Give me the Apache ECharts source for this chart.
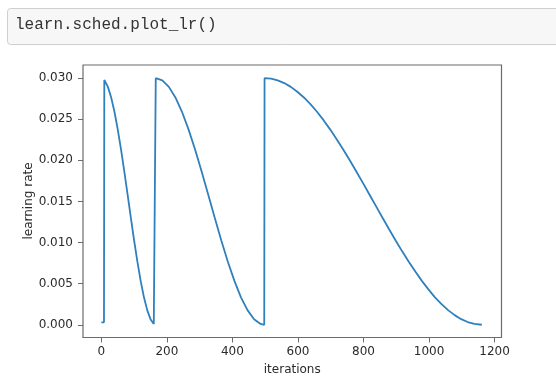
<!DOCTYPE html>
<html>
<head>
<meta charset="utf-8">
<script src="https://cdn.jsdelivr.net/npm/echarts@6/dist/echarts.min.js"></script>
<style>
  html, body { margin: 0; padding: 0; background: #ffffff; }
  #chart { width: 556px; height: 386px; }
</style>
</head>
<body>
<div id="chart"></div>
<script>
// ---- data ----
const codeText = 'learn.sched.plot_lr()';
const xLabel = 'iterations';
const yLabel = 'learning rate';
const xTicks = [0, 200, 400, 600, 800, 1000, 1200];
const yTicks = [0.000, 0.005, 0.010, 0.015, 0.020, 0.025, 0.030];

// warm-up + first cycle
const iterCycle1 = [0, 8, 9, 20, 30, 40, 50, 60, 70, 80, 90, 100, 110, 120, 130, 140, 150, 160, 165];
const lrCycle1 = [0.0003, 0.0003, 0.02978, 0.02894, 0.02765, 0.02591, 0.02377, 0.02133, 0.01865, 0.01585, 0.01302, 0.01025, 0.00767, 0.00534, 0.00334, 0.00178, 0.00068, 0.00010, 0.00000];
// second cycle
const iterCycle2 = [166, 186, 206, 226, 246, 266, 286, 306, 326, 346, 366, 386, 406, 426, 446, 466, 486, 497];
const lrCycle2 = [0.03000, 0.02973, 0.02894, 0.02765, 0.02591, 0.02377, 0.02133, 0.01865, 0.01585, 0.01302, 0.01025, 0.00767, 0.00534, 0.00334, 0.00178, 0.00068, 0.00010, 0.00000];
// third cycle
const iterCycle3 = [498, 518, 538, 558, 578, 598, 618, 638, 658, 678, 698, 718, 738, 758, 778, 798, 818, 838, 858, 878, 898, 918, 938, 958, 978, 998, 1018, 1038, 1058, 1078, 1098, 1118, 1138, 1161];
const lrCycle3 = [0.03000, 0.02993, 0.02973, 0.02940, 0.02894, 0.02835, 0.02765, 0.02683, 0.02591, 0.02489, 0.02377, 0.02258, 0.02133, 0.02001, 0.01865, 0.01726, 0.01585, 0.01443, 0.01302, 0.01162, 0.01025, 0.00893, 0.00767, 0.00647, 0.00534, 0.00430, 0.00334, 0.00251, 0.00178, 0.00117, 0.00068, 0.00033, 0.00010, 0.00000];

const iters = iterCycle1.concat(iterCycle2, iterCycle3);
const lrs = lrCycle1.concat(lrCycle2, lrCycle3);
const points = iters.map((x, i) => [x, lrs[i]]);

const chart = echarts.init(document.getElementById('chart'), null, { renderer: 'canvas' });
const font = 'DejaVu Sans';
const axisGray = '#6b6b6b';
const textColor = '#2b2b2b';

chart.setOption({
  animation: false,
  backgroundColor: '#ffffff',
  grid: {
    left: 83, top: 65, right: 54.5, bottom: 48.5,
    show: true, borderColor: axisGray, borderWidth: 1.2, backgroundColor: 'transparent'
  },
  graphic: [
    {
      type: 'rect', left: 7, top: 8, z: 10,
      shape: { width: 570, height: 36, r: 3 },
      style: { fill: '#f7f7f7', stroke: '#cfcfcf', lineWidth: 1 }
    },
    {
      type: 'text', left: 15, top: 17, z: 11,
      style: { text: codeText, font: '16px "Liberation Mono", monospace', fill: '#333333' }
    },
    {
      type: 'text', x: 29, y: 201, rotation: Math.PI / 2, z: 11,
      style: { text: yLabel, font: '12px "DejaVu Sans"', fill: textColor,
        align: 'center', verticalAlign: 'middle' }
    }
  ],
  xAxis: {
    type: 'value', min: -56, max: 1221,
    name: xLabel, nameLocation: 'middle', nameGap: 26,
    nameTextStyle: { fontFamily: font, fontSize: 12, color: textColor },
    axisLine: { show: false, onZero: false },
    axisTick: { show: true, length: 5, inside: false, customValues: xTicks, lineStyle: { color: axisGray, width: 1 } },
    axisLabel: { customValues: xTicks, fontFamily: font, fontSize: 12, color: textColor, margin: 8,
      formatter: v => String(Math.round(v)) },
    splitLine: { show: false }
  },
  yAxis: {
    type: 'value', min: -0.00155, max: 0.0316,
    axisLine: { show: false, onZero: false },
    axisTick: { show: true, length: 5, inside: false, customValues: yTicks, lineStyle: { color: axisGray, width: 1 } },
    axisLabel: { customValues: yTicks, fontFamily: font, fontSize: 12, color: textColor, margin: 10,
      formatter: v => v.toFixed(3) },
    splitLine: { show: false }
  },
  series: [{
    type: 'line', data: points, showSymbol: false, smooth: false,
    lineStyle: { color: '#2f80bd', width: 1.8 },
    clip: true
  }]
});
</script>
</body>
</html>
